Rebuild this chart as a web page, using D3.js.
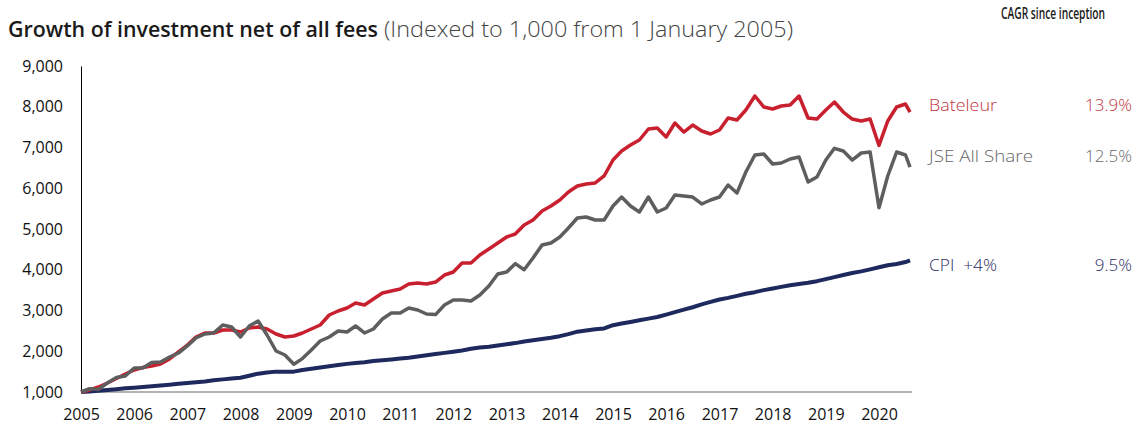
<!DOCTYPE html>
<html>
<head>
<meta charset="utf-8">
<script src="https://cdn.jsdelivr.net/npm/d3@7"></script>
<style>
    body { margin: 0; background: #fff; }
    svg { display: block; font-family: "Open Sans", sans-serif; }
</style>
</head>
<body>
<svg id="chart"></svg>
<script>
// Bi-monthly observations (Jan, Mar, May, Jul, Sep, Nov), last point Aug 2020
const months = [
    "2005-01", "2005-03", "2005-05", "2005-07", "2005-09", "2005-11",
    "2006-01", "2006-03", "2006-05", "2006-07", "2006-09", "2006-11",
    "2007-01", "2007-03", "2007-05", "2007-07", "2007-09", "2007-11",
    "2008-01", "2008-03", "2008-05", "2008-07", "2008-09", "2008-11",
    "2009-01", "2009-03", "2009-05", "2009-07", "2009-09", "2009-11",
    "2010-01", "2010-03", "2010-05", "2010-07", "2010-09", "2010-11",
    "2011-01", "2011-03", "2011-05", "2011-07", "2011-09", "2011-11",
    "2012-01", "2012-03", "2012-05", "2012-07", "2012-09", "2012-11",
    "2013-01", "2013-03", "2013-05", "2013-07", "2013-09", "2013-11",
    "2014-01", "2014-03", "2014-05", "2014-07", "2014-09", "2014-11",
    "2015-01", "2015-03", "2015-05", "2015-07", "2015-09", "2015-11",
    "2016-01", "2016-03", "2016-05", "2016-07", "2016-09", "2016-11",
    "2017-01", "2017-03", "2017-05", "2017-07", "2017-09", "2017-11",
    "2018-01", "2018-03", "2018-05", "2018-07", "2018-09", "2018-11",
    "2019-01", "2019-03", "2019-05", "2019-07", "2019-09", "2019-11",
    "2020-01", "2020-03", "2020-05", "2020-07", "2020-08"
];

const bateleur = [
    1000, 1050, 1123, 1221, 1331, 1442,
    1540, 1601, 1638, 1687, 1810, 1982,
    2153, 2350, 2448, 2448, 2521, 2521,
    2472, 2570, 2595, 2546, 2423, 2350,
    2374, 2448, 2546, 2644, 2890, 2988,
    3061, 3184, 3135, 3282, 3429, 3478,
    3528, 3650, 3675, 3650, 3699, 3871,
    3945, 4166, 4166, 4362, 4509, 4656,
    4804, 4877, 5098, 5221, 5442, 5564,
    5712, 5908, 6055, 6104, 6129, 6301,
    6693, 6914, 7061, 7184, 7454, 7478,
    7258, 7600, 7380, 7552, 7405, 7331,
    7429, 7724, 7675, 7920, 8264, 7994,
    7945, 8018, 8043, 8264, 7724, 7699,
    7920, 8116, 7871, 7699, 7650, 7699,
    7050, 7650, 7994, 8067, 7870
];

const jseAllShare = [
    1000, 1080, 1064, 1221, 1356, 1393,
    1589, 1589, 1724, 1736, 1859, 1957,
    2129, 2325, 2423, 2448, 2644, 2595,
    2350, 2620, 2742, 2399, 2006, 1908,
    1680, 1820, 2031, 2252, 2350, 2497,
    2472, 2620, 2448, 2546, 2791, 2939,
    2939, 3061, 3012, 2914, 2900, 3135,
    3258, 3258, 3233, 3380, 3601, 3896,
    3945, 4150, 4000, 4288, 4607, 4656,
    4804, 5025, 5270, 5295, 5221, 5221,
    5564, 5785, 5564, 5417, 5785, 5417,
    5515, 5834, 5810, 5785, 5614, 5712,
    5785, 6080, 5883, 6399, 6816, 6840,
    6595, 6620, 6718, 6767, 6153, 6276,
    6693, 6980, 6914, 6693, 6865, 6890,
    5520, 6301, 6890, 6816, 6520
];

const cpiPlus4 = [
    1000, 1015, 1030, 1050, 1070, 1090,
    1105, 1120, 1140, 1160, 1180, 1200,
    1220, 1240, 1260, 1290, 1310, 1330,
    1350, 1400, 1450, 1480, 1500, 1500,
    1500, 1540, 1570, 1600, 1630, 1660,
    1690, 1710, 1730, 1760, 1780, 1800,
    1820, 1840, 1870, 1900, 1930, 1960,
    1990, 2020, 2060, 2090, 2110, 2140,
    2170, 2200, 2240, 2270, 2300, 2330,
    2370, 2420, 2480, 2510, 2540, 2560,
    2640, 2680, 2720, 2760, 2800, 2840,
    2900, 2960, 3020, 3080, 3150, 3210,
    3270, 3310, 3360, 3410, 3450, 3500,
    3540, 3580, 3620, 3650, 3680, 3720,
    3770, 3820, 3870, 3920, 3960, 4010,
    4060, 4110, 4140, 4190, 4230
];

const yearTicks = ["2005", "2006", "2007", "2008", "2009", "2010", "2011", "2012",
    "2013", "2014", "2015", "2016", "2017", "2018", "2019", "2020"];
const valueTicks = [1000, 2000, 3000, 4000, 5000, 6000, 7000, 8000, 9000];

const seriesNames = ["Bateleur", "JSE All Share", "CPI  +4%"];
const cagr = ["13.9%", "12.5%", "9.5%"];

const width = 1135;
const height = 428;
const svg = d3.select("#chart").attr("width", width).attr("height", height);

const parseMonth = d3.timeParse("%Y-%m");
const dates = months.map(parseMonth);

// Scales: year labels sit on 1 January of each year
const x = d3.scaleTime()
    .domain([parseMonth("2005-01"), parseMonth("2020-01")])
    .range([81, 879]);

const y = d3.scaleLinear()
    .domain([1000, 9000])
    .range([392, 66]);

// Title
const title = svg.append("text")
    .attr("x", 8)
    .attr("y", 37)
    .attr("fill", "#1a1a1a");
title.append("tspan")
    .attr("font-size", 21.5)
    .attr("font-weight", 600)
    .attr("textLength", 370)
    .attr("lengthAdjust", "spacingAndGlyphs")
    .text("Growth of investment net of all fees");
title.append("tspan")
    .attr("x", 384)
    .attr("font-size", 22.5)
    .attr("font-weight", 300)
    .attr("fill", "#444")
    .attr("textLength", 409)
    .attr("lengthAdjust", "spacingAndGlyphs")
    .text("(Indexed to 1,000 from 1 January 2005)");

// column header, condensed to fit above the CAGR figures
svg.append("text")
    .attr("transform", "translate(1001,19) scale(0.66,1)")
    .attr("font-size", 15.5)
    .attr("font-weight", 600)
    .attr("fill", "#1a1a1a")
    .text("CAGR since inception");

// Axes
const yAxis = svg.append("g")
    .attr("transform", "translate(81,0)")
    .call(d3.axisLeft(y).tickValues(valueTicks).tickSize(0).tickPadding(18).tickFormat(d3.format(",")));
yAxis.select(".domain").attr("stroke", "#000");
yAxis.selectAll("text").attr("font-size", 16).attr("fill", "#111").attr("font-family", "Open Sans");

const xAxis = svg.append("g")
    .attr("transform", "translate(0,392)")
    .call(d3.axisBottom(x)
        .tickValues(yearTicks.map((t) => parseMonth(t + "-01")))
        .tickSize(0)
        .tickPadding(17)
        .tickFormat(d3.timeFormat("%Y")));
xAxis.select(".domain").attr("stroke", "#666").attr("d", "M81,0H912");
xAxis.selectAll("text").attr("font-size", 16).attr("fill", "#111").attr("font-family", "Open Sans");

// Lines (draw CPI first, then Bateleur, then JSE on top)
const line = d3.line()
    .x((d) => x(d.date))
    .y((d) => y(d.value));

const series = [
    { values: cpiPlus4, color: "#1e2a5e", width: 4 },
    { values: bateleur, color: "#c8202e", width: 3.5 },
    { values: jseAllShare, color: "#5e5e5e", width: 3.5 }
];

series.forEach((s) => {
    svg.append("path")
        .datum(s.values.map((v, i) => ({ date: dates[i], value: v })))
        .attr("fill", "none")
        .attr("stroke", s.color)
        .attr("stroke-width", s.width)
        .attr("stroke-linejoin", "round")
        .attr("d", line);
});

// Legend with CAGR figures
const legendColors = ["#c0343c", "#666666", "#2d2d66"];
const legendY = [111, 162, 271];
const legendWidths = [68, 104, 68];

seriesNames.forEach((name, i) => {
    svg.append("text")
        .attr("x", 929)
        .attr("y", legendY[i])
        .attr("font-size", 17)
        .attr("font-weight", 300)
        .attr("fill", legendColors[i])
        .attr("textLength", legendWidths[i])
        .attr("lengthAdjust", "spacingAndGlyphs")
        .style("white-space", "pre")
        .text(name);
    svg.append("text")
        .attr("x", 1132)
        .attr("y", legendY[i])
        .attr("text-anchor", "end")
        .attr("font-size", 17)
        .attr("font-weight", 300)
        .attr("fill", legendColors[i])
        .text(cagr[i]);
});
</script>
</body>
</html>
